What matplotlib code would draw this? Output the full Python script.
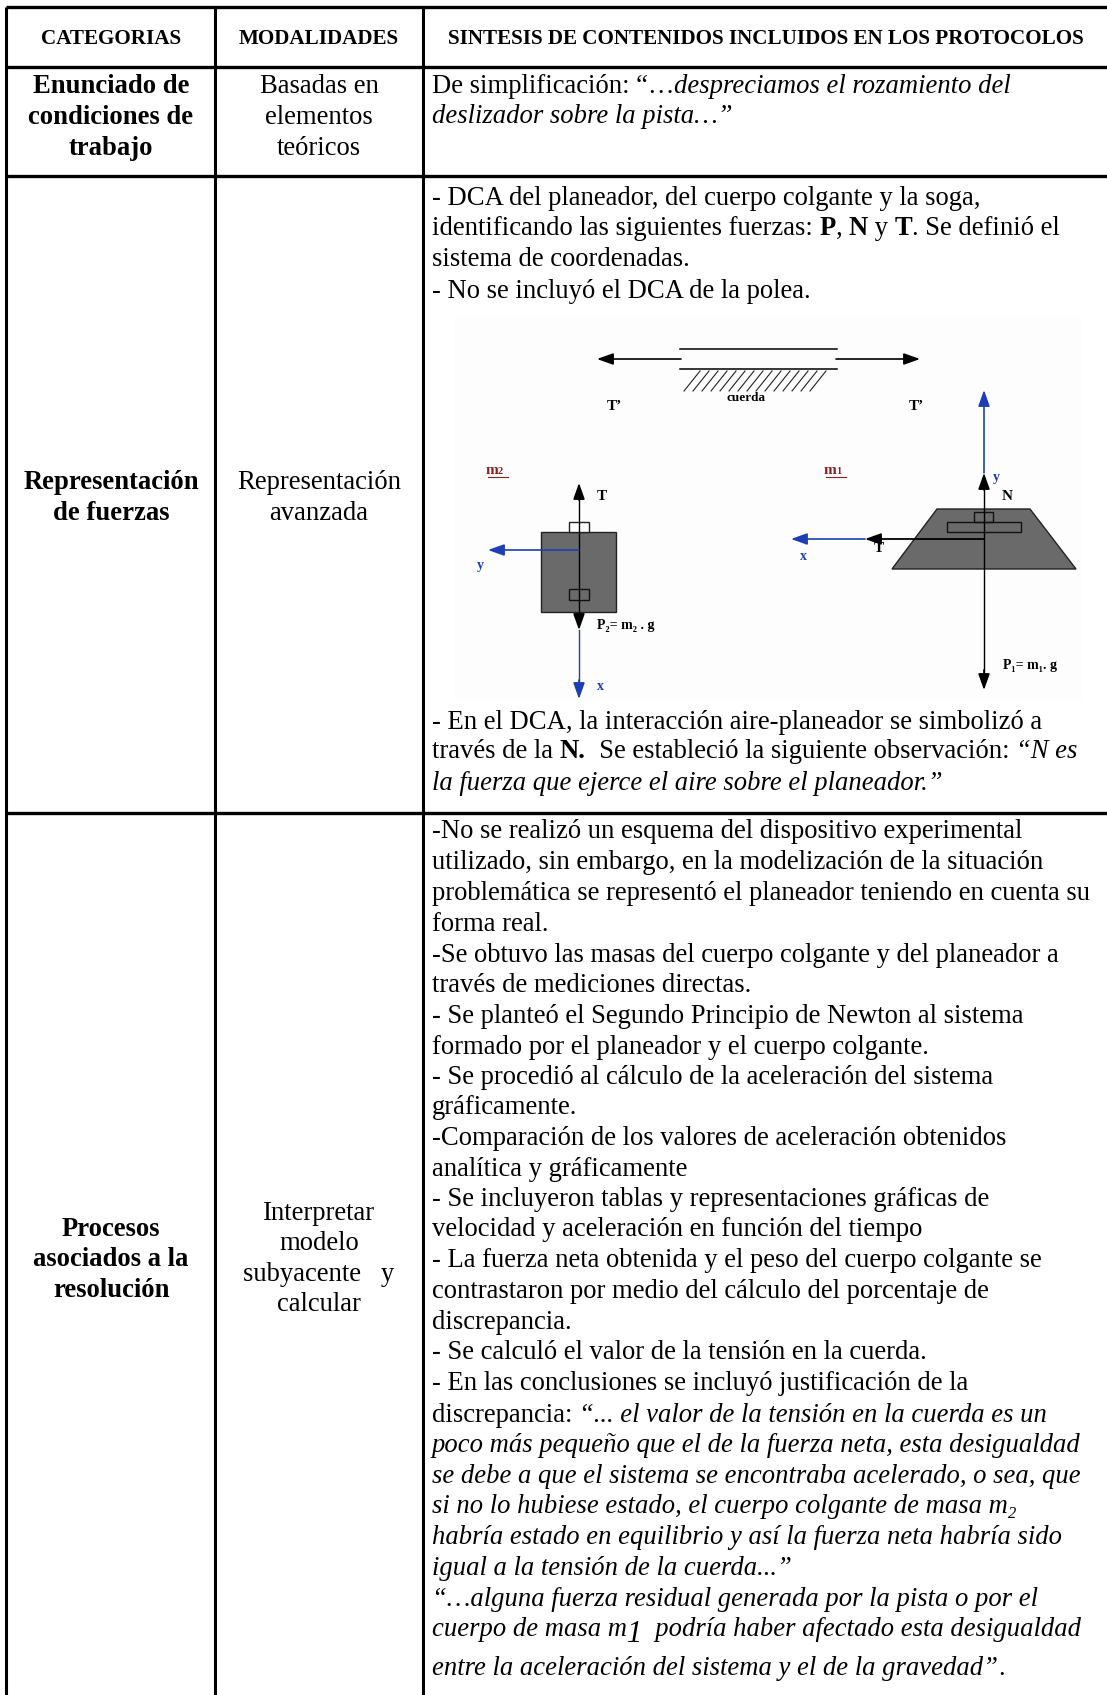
"""Protocol summary table (categorias / modalidades / sintesis) with the DCA sketch."""

import matplotlib
matplotlib.use("Agg")
import matplotlib.pyplot as plt
from matplotlib.patches import Polygon, Rectangle

W, H = 1107, 1695
BLUE = "#1c3fb5"
GREY = "#6a6a6a"
RED = "#8a2020"
BODY = 19.2

HEADERS = ["CATEGORIAS", "MODALIDADES", "SINTESIS DE CONTENIDOS INCLUIDOS EN LOS PROTOCOLOS"]

CATEGORIAS = [
    ["Enunciado de", "condiciones de", "trabajo"],
    ["Representación", "de fuerzas"],
    ["Procesos", "asociados a la", "resolución"],
]
CATEGORIAS_Y = [[85, 116, 147], [481, 512], [1228, 1258, 1289]]

MODALIDADES = [
    ["Basadas en", "elementos", "teóricos"],
    ["Representación", "avanzada"],
    ["Interpretar", "modelo", "subyacente   y", "calcular"],
]
MODALIDADES_Y = [[85, 116, 147], [481, 512], [1212, 1242, 1273, 1303]]

# r = roman, i = italic, b = bold, s = italic subscript, S = big italic subscript
SINTESIS = [
    [("De simplificación: “…", "r"), ("despreciamos el rozamiento del", "i")],
    [("deslizador sobre la pista…”", "i")],
    [("- DCA del planeador, del cuerpo colgante y la soga,", "r")],
    [("identificando las siguientes fuerzas: ", "r"), ("P", "b"), (", ", "r"), ("N", "b"), (" y ", "r"), ("T", "b"), (". Se definió el", "r")],
    [("sistema de coordenadas.", "r")],
    [("- No se incluyó el DCA de la polea.", "r")],
    [("- En el DCA, la interacción aire-planeador se simbolizó a", "r")],
    [("través de la ", "r"), ("N.", "b"), ("  Se estableció la siguiente observación: ", "r"), ("“N es", "i")],
    [("la fuerza que ejerce el aire sobre el planeador.”", "i")],
    [("-No se realizó un esquema del dispositivo experimental", "r")],
    [("utilizado, sin embargo, en la modelización de la situación", "r")],
    [("problemática se representó el planeador teniendo en cuenta su", "r")],
    [("forma real.", "r")],
    [("-Se obtuvo las masas del cuerpo colgante y del planeador a", "r")],
    [("través de mediciones directas.", "r")],
    [("- Se planteó el Segundo Principio de Newton al sistema", "r")],
    [("formado por el planeador y el cuerpo colgante.", "r")],
    [("- Se procedió al cálculo de la aceleración del sistema", "r")],
    [("gráficamente.", "r")],
    [("-Comparación de los valores de aceleración obtenidos", "r")],
    [("analítica y gráficamente", "r")],
    [("- Se incluyeron tablas y representaciones gráficas de", "r")],
    [("velocidad y aceleración en función del tiempo", "r")],
    [("- La fuerza neta obtenida y el peso del cuerpo colgante se", "r")],
    [("contrastaron por medio del cálculo del porcentaje de", "r")],
    [("discrepancia.", "r")],
    [("- Se calculó el valor de la tensión en la cuerda.", "r")],
    [("- En las conclusiones se incluyó justificación de la", "r")],
    [("discrepancia: ", "r"), ("“... el valor de la tensión en la cuerda es un", "i")],
    [("poco más pequeño que el de la fuerza neta, esta desigualdad", "i")],
    [("se debe a que el sistema se encontraba acelerado, o sea, que", "i")],
    [("si no lo hubiese estado, el cuerpo colgante de masa m", "i"), ("2", "s")],
    [("habría estado en equilibrio y así la fuerza neta habría sido", "i")],
    [("igual a la tensión de la cuerda...”", "i")],
    [("“…alguna fuerza residual generada por la pista o por el", "i")],
    [("cuerpo de masa m", "i"), ("1", "S"), ("  podría haber afectado esta desigualdad", "i")],
    [("entre la aceleración del sistema y el de la gravedad”", "i"), (".", "r")],
]
SINTESIS_Y = [85, 115, 197, 227, 258, 290, 721, 750, 782,
              830, 861, 892, 923, 954, 984, 1015, 1046, 1076, 1106, 1137, 1168,
              1198, 1228, 1259, 1290, 1321, 1351, 1382, 1414, 1444, 1475, 1505,
              1536, 1567, 1598, 1628, 1667]

COL_X = [6, 215, 423]
ROW_Y = [7, 67, 176, 813]


def draw_runs(ax, renderer, x, y, runs, size=BODY):
    for text, kind in runs:
        kw = {"r": {}, "i": {"style": "italic"}, "b": {"weight": "bold"},
              "s": {"style": "italic"}, "S": {"style": "italic"}}[kind]
        fs, dy = size, 0
        if kind == "s":
            fs, dy = size * 0.62, 5
        if kind == "S":
            fs, dy = size * 1.15, 6
        t = ax.text(x, y + 8 + dy, text, fontsize=fs, va="baseline", ha="left", **kw)
        x += t.get_window_extent(renderer).width


def arrow(ax, x0, y0, x1, y1, color="black", lw=1.2):
    ax.annotate("", xy=(x1, y1), xytext=(x0, y0),
                arrowprops=dict(arrowstyle="-|>,head_length=0.7,head_width=0.25", color=color,
                                lw=lw, shrinkA=0, shrinkB=0, mutation_scale=14), zorder=4)


def small(ax, x, y, s, color="black", size=10, ha="center"):
    ax.text(x, y, s, fontsize=size, weight="bold", color=color, ha=ha, va="center")


def draw_diagram(ax):
    ax.add_patch(Rectangle((455, 317), 627, 383, fc="#fdfdfd", ec="none", zorder=0))

    # track and glider seen from the side
    ax.plot([680, 837], [349, 349], color="black", lw=1.1)
    ax.plot([680, 837], [369, 369], color="black", lw=1.1)
    arrow(ax, 681, 359, 597, 359)
    arrow(ax, 836, 359, 920, 359)
    for xh in range(684, 815, 9):
        ax.plot([xh, xh + 16], [391, 371], color="#222222", lw=0.8)
    small(ax, 746, 398, "cuerda", size=9.5)
    small(ax, 614, 407, "T’", size=11)
    small(ax, 916, 407, "T’", size=11)

    # hanging body m2
    ax.text(498, 470, "m", fontsize=11, weight="bold", color=RED, ha="right", va="center")
    ax.text(498, 472, "2", fontsize=7.5, weight="bold", color=RED, ha="left", va="center")
    ax.plot([488, 508], [477, 477], color=RED, lw=0.8)
    ax.add_patch(Rectangle((541, 532), 75, 80, fc=GREY, ec="#222222", lw=1, zorder=2))
    ax.add_patch(Rectangle((569, 522), 20, 10, fc="white", ec="#222222", lw=1, zorder=2))
    ax.add_patch(Rectangle((569, 589), 20, 11, fc="none", ec="#111111", lw=1, zorder=3))
    ax.plot([579, 579], [495, 620], color="black", lw=1, zorder=3)
    arrow(ax, 579, 500, 579, 483)
    arrow(ax, 579, 615, 579, 630)
    ax.plot([579, 579], [630, 690], color=BLUE, lw=1, zorder=3)
    arrow(ax, 579, 680, 579, 699, color=BLUE)
    arrow(ax, 579, 550, 488, 550, color=BLUE)
    small(ax, 602, 497, "T", size=11)
    small(ax, 600, 686, "x", color=BLUE)
    small(ax, 480, 566, "y", color=BLUE)
    small(ax, 597, 626, "P₂= m₂ . g", size=10, ha="left")

    # glider m1
    ax.text(836, 470, "m", fontsize=11, weight="bold", color=RED, ha="right", va="center")
    ax.text(836, 472, "1", fontsize=7.5, weight="bold", color=RED, ha="left", va="center")
    ax.plot([826, 846], [477, 477], color=RED, lw=0.8)
    ax.add_patch(Polygon([(937, 509), (1030, 509), (1076, 569), (892, 569)], fc=GREY, ec="#222222", lw=1, zorder=2))
    ax.add_patch(Rectangle((974, 512), 19, 10, fc="none", ec="#111111", lw=1, zorder=3))
    ax.add_patch(Rectangle((947, 522), 74, 10, fc="none", ec="#111111", lw=1, zorder=3))
    ax.plot([984, 984], [490, 680], color="black", lw=1, zorder=3)
    arrow(ax, 984, 490, 984, 473)
    arrow(ax, 984, 670, 984, 690)
    arrow(ax, 984, 473, 984, 390, color=BLUE)
    ax.plot([984, 880], [539, 539], color="black", lw=1.3, zorder=3)
    arrow(ax, 880, 539, 865, 539)
    arrow(ax, 865, 539, 791, 539, color=BLUE)
    small(ax, 996, 478, "y", color=BLUE)
    small(ax, 1007, 497, "N", size=11)
    small(ax, 803, 556, "x", color=BLUE)
    small(ax, 879, 549, "T", size=11)
    small(ax, 1003, 665, "P₁= m₁. g", size=10, ha="left")


def main():
    plt.rcParams["font.family"] = ["Liberation Serif", "DejaVu Serif"]
    fig = plt.figure(figsize=(W / 100, H / 100), dpi=100)
    ax = fig.add_axes([0, 0, 1, 1])
    ax.set_xlim(0, W)
    ax.set_ylim(H, 0)
    ax.axis("off")
    renderer = fig.canvas.get_renderer()

    # grid of the table, no rule at the bottom or right edge
    for x in COL_X:
        ax.plot([x, x], [ROW_Y[0], H], color="black", lw=2.2, solid_capstyle="butt")
    for y in ROW_Y:
        ax.plot([COL_X[0], W], [y, y], color="black", lw=2.4, solid_capstyle="butt")

    centers = [111, 319, 766]
    for cx, head in zip(centers, HEADERS):
        ax.text(cx, 44, head, fontsize=15.2, weight="bold", ha="center", va="baseline")

    for lines, ys in zip(CATEGORIAS, CATEGORIAS_Y):
        for s, y in zip(lines, ys):
            ax.text(111, y + 8, s, fontsize=BODY, weight="bold", ha="center", va="baseline")
    for lines, ys in zip(MODALIDADES, MODALIDADES_Y):
        for s, y in zip(lines, ys):
            ax.text(319, y + 8, s, fontsize=BODY, ha="center", va="baseline")

    for runs, y in zip(SINTESIS, SINTESIS_Y):
        draw_runs(ax, renderer, 432, y, runs)

    draw_diagram(ax)
    fig.savefig("out.png", dpi=100)


if __name__ == "__main__":
    main()
